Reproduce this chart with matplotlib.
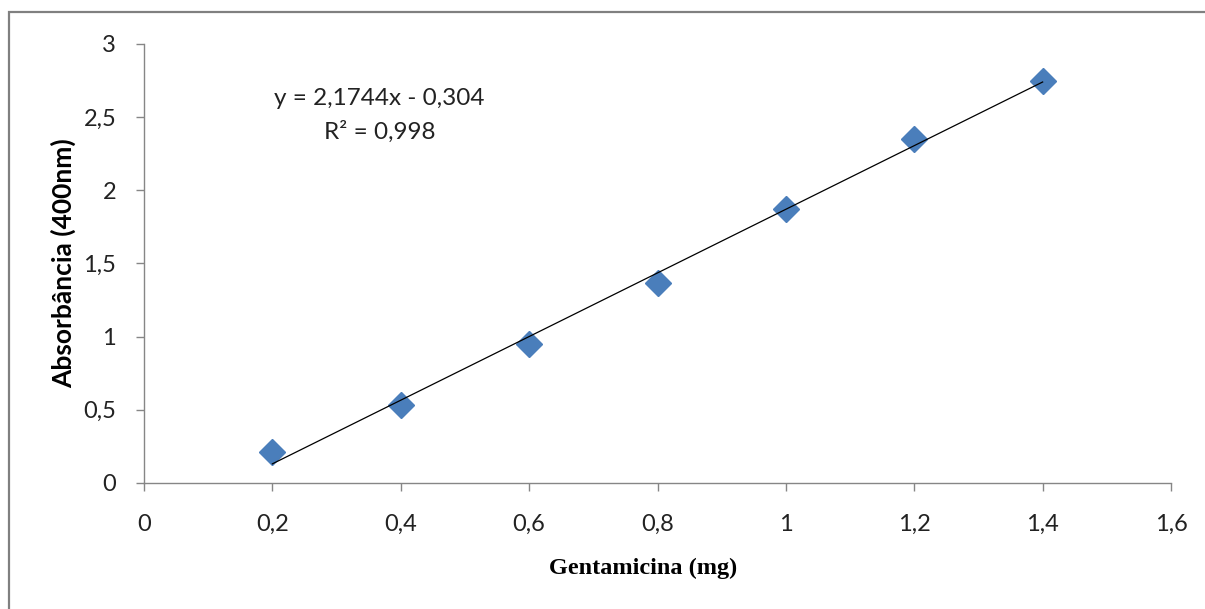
import matplotlib.pyplot as plt
from matplotlib.patches import Rectangle
from matplotlib.ticker import FuncFormatter
import numpy as np

# Calibration data (Gentamicina vs absorbance at 400 nm)
gentamicina_mg = [0.2, 0.4, 0.6, 0.8, 1.0, 1.2, 1.4]
absorbancia = [0.21, 0.53, 0.95, 1.37, 1.87, 2.35, 2.75]

# Linear trendline as reported on the chart
slope = 2.1744
intercept = -0.304
r_squared = 0.998

x_ticks = [0, 0.2, 0.4, 0.6, 0.8, 1.0, 1.2, 1.4, 1.6]
y_ticks = [0, 0.5, 1.0, 1.5, 2.0, 2.5, 3.0]

plt.rcParams['font.family'] = ['Lato', 'DejaVu Sans']

fig = plt.figure(figsize=(12.05, 6.09), dpi=100)
ax = fig.add_axes([0.1195, 0.2069, 0.8523, 0.7209])

# Outer chart border (Excel-style chart area)
fig.patches.append(Rectangle((9 / 1205, -0.02), 1.1, 1 - 12 / 609 + 0.02,
                             transform=fig.transFigure, fill=False,
                             edgecolor='#808080', linewidth=1.6, zorder=0))

# Trendline
x_line = np.array([gentamicina_mg[0], gentamicina_mg[-1]])
ax.plot(x_line, slope * x_line + intercept, color='black', linewidth=0.9, zorder=3)

# Data points
ax.plot(gentamicina_mg, absorbancia, linestyle='none', marker='D',
        markersize=13, color='#4A7EBB', markeredgecolor='#4A7EBB', zorder=2)

ax.set_xlim(0, 1.6)
ax.set_ylim(0, 3)
ax.set_xticks(x_ticks)
ax.set_yticks(y_ticks)

def comma_fmt(v, pos):
    return f'{v:g}'.replace('.', ',')

ax.xaxis.set_major_formatter(FuncFormatter(comma_fmt))
ax.yaxis.set_major_formatter(FuncFormatter(comma_fmt))

for side in ['top', 'right']:
    ax.spines[side].set_visible(False)
for side in ['left', 'bottom']:
    ax.spines[side].set_color('#868686')
    ax.spines[side].set_linewidth(1.0)

ax.tick_params(axis='both', direction='out', length=6, width=1.0,
               color='#868686', labelsize=17, labelcolor='#222222')
ax.tick_params(axis='x', pad=16)
ax.tick_params(axis='y', pad=14)

ax.set_xlabel('Gentamicina (mg)', fontsize=17.5, fontweight='bold',
              family=['Liberation Serif', 'DejaVu Serif'])
ax.xaxis.set_label_coords(0.486, -0.17)
ax.set_ylabel('Absorbância (400nm)', fontsize=19, fontweight='bold')
ax.yaxis.set_label_coords(-0.066, 0.5)

# Trendline equation
sign = '-' if intercept < 0 else '+'
eq_text = f'y = {slope:.4f}x {sign} {abs(intercept):.3f}'.replace('.', ',')
ax.text(0.367, 2.63, eq_text, fontsize=17.5, ha='center', va='center', color='#222222')
ax.text(0.367, 2.40, f'R² = {r_squared:.3f}'.replace('.', ','), fontsize=17.5,
        ha='center', va='center', color='#222222')

fig.savefig('out.png', dpi=100)
